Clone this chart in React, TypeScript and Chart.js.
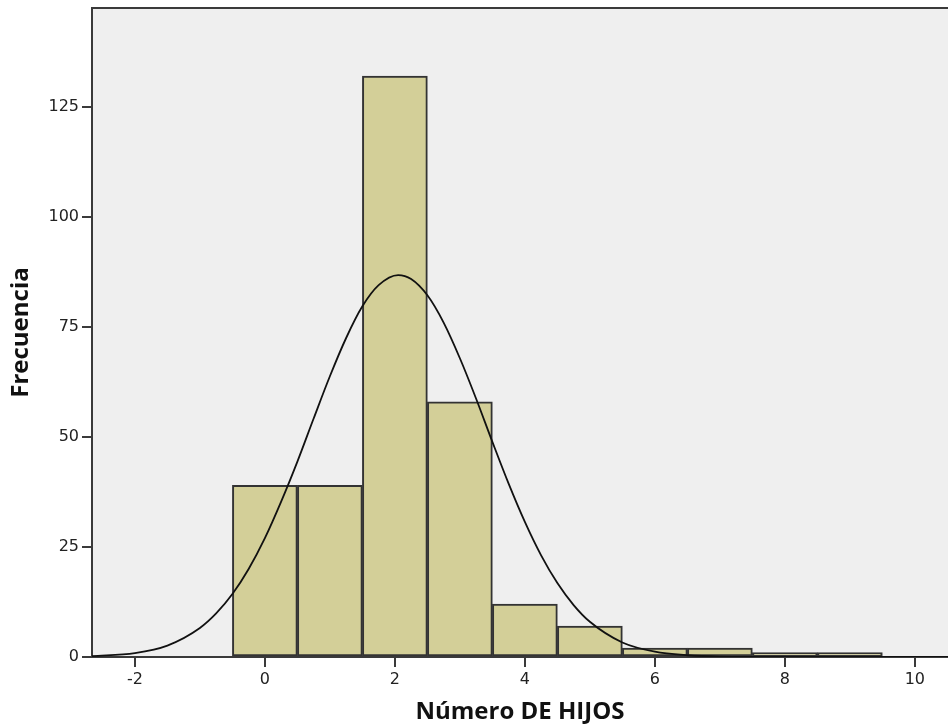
import React, { useEffect, useRef } from "react";
import { Chart, registerables } from "chart.js";

Chart.register(...registerables);

// Histogram bins (centre of each bin = number of children)
const binCenters = [0, 1, 2, 3, 4, 5, 6, 7, 8, 9];
const frequencies = [39, 39, 132, 58, 12, 7, 2, 2, 1, 1];

// Normal curve
const curveX = [-2.66, -2, -1.5, -1, -0.75, -0.5, -0.25, 0, 0.25, 0.5, 0.75, 1, 1.25, 1.5, 1.75, 2.05, 2.25, 2.5, 2.75, 3, 3.25, 3.5, 3.75, 4, 4.25, 4.5, 4.75, 5, 5.5, 6, 6.5, 7, 8, 10.51];
const curveY = [0.2, 0.9, 2.6, 6.6, 9.9, 14.3, 20.0, 27, 35.3, 44.4, 54.2, 63.8, 72.5, 79.7, 84.5, 86.8, 85.9, 82.2, 76.0, 67.9, 58.7, 48.9, 39.4, 30.7, 23.1, 16.8, 11.8, 8.0, 3.3, 1.2, 0.4, 0.1, 0, 0];

const xTickValues = [-2, 0, 2, 4, 6, 8, 10];
const yTickValues = [0, 25, 50, 75, 100, 125];

const xTitle = "Número DE HIJOS";
const yTitle = "Frecuencia";

const plotBg = {
  id: "plotBg",
  beforeDraw(chart: any) {
    const { ctx, chartArea } = chart;
    ctx.save();
    ctx.fillStyle = "#efefef";
    ctx.fillRect(chartArea.left, chartArea.top, chartArea.right - chartArea.left, chartArea.bottom - chartArea.top);
    ctx.restore();
  },
  afterDraw(chart: any) {
    const { ctx, chartArea } = chart;
    ctx.save();
    ctx.strokeStyle = "#3a3a3a";
    ctx.lineWidth = 2;
    ctx.beginPath();
    ctx.moveTo(chartArea.left - 1, chartArea.top);
    ctx.lineTo(chartArea.right, chartArea.top);
    ctx.stroke();
    ctx.restore();
  },
};

export default function App() {
  const ref = useRef<HTMLCanvasElement | null>(null);
  useEffect(() => {
    if (!ref.current) return;
    const chart = new Chart(ref.current, {
      type: "bar",
      data: {
        datasets: [
          {
            type: "line",
            order: 0,
            data: curveX.map((x, i) => ({ x, y: curveY[i] })),
            borderColor: "#111",
            borderWidth: 1.8,
            pointRadius: 0,
            fill: false,
            cubicInterpolationMode: "monotone",
          } as any,
          {
            type: "bar",
            order: 1,
            data: binCenters.map((x, i) => ({ x, y: frequencies[i] })),
            backgroundColor: "#d3cf98",
            borderColor: "#333",
            borderWidth: 2,
            borderSkipped: false,
            barPercentage: 1,
            categoryPercentage: 1,
          } as any,
        ],
      },
      options: {
        responsive: false,
        animation: false,
        layout: { padding: { top: 8, right: 0, left: 0, bottom: 0 } },
        plugins: { legend: { display: false }, tooltip: { enabled: false } },
        scales: {
          x: {
            type: "linear",
            offset: false,
            min: -2.66,
            max: 10.51,
            afterFit: (s: any) => { s.height = 71; s.paddingLeft = 0; s.paddingRight = 0; },
            afterBuildTicks: (s: any) => { s.ticks = xTickValues.map((v) => ({ value: v })); },
            ticks: { font: { family: "DejaVu Sans", size: 16 }, color: "#222", padding: 3 },
            grid: { offset: false, drawOnChartArea: false, drawTicks: true, tickLength: 10, color: "#3a3a3a", lineWidth: 2 },
            border: { display: true, color: "#3a3a3a", width: 2 },
            title: {
              display: true,
              text: xTitle,
              font: { family: "Open Sans", size: 24, weight: "bold" },
              color: "#111",
              padding: { top: 0, bottom: 1 },
            },
          },
          y: {
            type: "linear",
            min: 0,
            max: 147.5,
            afterFit: (s: any) => { s.width = 92; s.paddingTop = 0; s.paddingBottom = 0; },
            afterBuildTicks: (s: any) => { s.ticks = yTickValues.map((v) => ({ value: v })); },
            ticks: { font: { family: "DejaVu Sans", size: 16 }, color: "#222", padding: 3 },
            grid: { drawOnChartArea: false, drawTicks: true, tickLength: 10, color: "#3a3a3a", lineWidth: 2 },
            border: { display: true, color: "#3a3a3a", width: 2 },
            title: {
              display: true,
              text: yTitle,
              font: { family: "Open Sans", size: 24, weight: "bold" },
              color: "#111",
              padding: { top: 7, bottom: 0 },
            },
          },
        },
      },
      plugins: [plotBg],
    });
    return () => chart.destroy();
  }, []);
  return (
    <div style={{ position: "fixed", left: 0, top: 0, width: 948, height: 728, background: "#fff" }}>
      <canvas ref={ref} width={948} height={728} style={{ display: "block" }} />
    </div>
  );
}
